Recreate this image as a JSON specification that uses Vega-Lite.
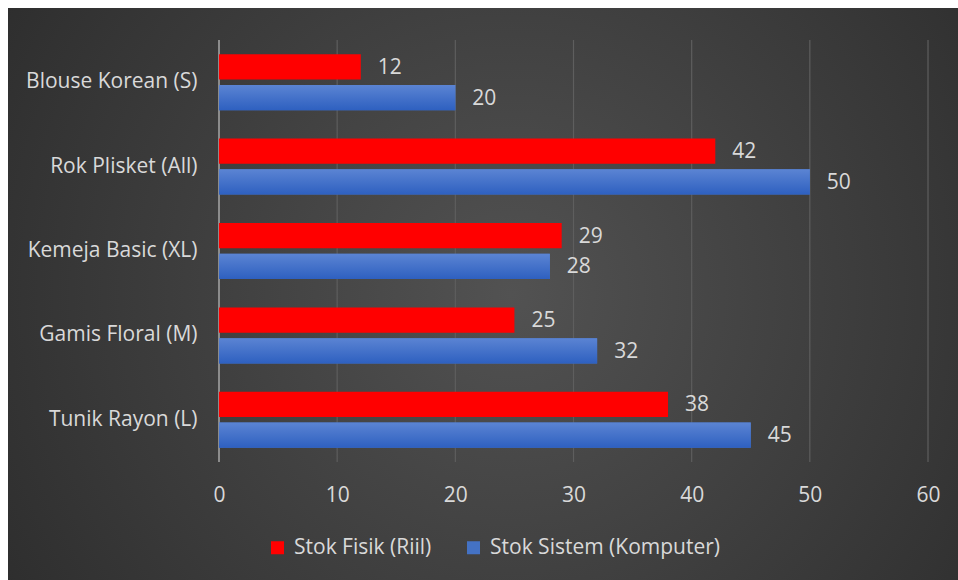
{
  "$schema": "https://vega.github.io/schema/vega-lite/v6.json",
  "width": 950,
  "height": 572,
  "padding": {"left": 8, "top": 8, "right": 0, "bottom": 0},
  "autosize": {"type": "none"},
  "background": "#ffffff",
  "config": {
    "font": "Open Sans",
    "view": {
      "stroke": null,
      "fill": {
        "gradient": "radial",
        "x1": 0.53, "y1": 0.5, "r1": 0,
        "x2": 0.53, "y2": 0.5, "r2": 0.72,
        "stops": [
          {"offset": 0, "color": "#525252"},
          {"offset": 1, "color": "#282828"}
        ]
      }
    }
  },
  "datasets": {
    "stock": [
      {"product": "Blouse Korean (S)", "series": "Stok Fisik (Riil)", "value": 12},
      {"product": "Blouse Korean (S)", "series": "Stok Sistem (Komputer)", "value": 20},
      {"product": "Rok Plisket (All)", "series": "Stok Fisik (Riil)", "value": 42},
      {"product": "Rok Plisket (All)", "series": "Stok Sistem (Komputer)", "value": 50},
      {"product": "Kemeja Basic (XL)", "series": "Stok Fisik (Riil)", "value": 29},
      {"product": "Kemeja Basic (XL)", "series": "Stok Sistem (Komputer)", "value": 28},
      {"product": "Gamis Floral (M)", "series": "Stok Fisik (Riil)", "value": 25},
      {"product": "Gamis Floral (M)", "series": "Stok Sistem (Komputer)", "value": 32},
      {"product": "Tunik Rayon (L)", "series": "Stok Fisik (Riil)", "value": 38},
      {"product": "Tunik Rayon (L)", "series": "Stok Sistem (Komputer)", "value": 45}
    ],
    "grid": [
      {"value": 10}, {"value": 20}, {"value": 30}, {"value": 40}, {"value": 50}, {"value": 60}
    ],
    "axisline": [
      {"value": 0}
    ]
  },
  "encoding": {
    "x": {
      "field": "value",
      "type": "quantitative",
      "scale": {"domain": [0, 60], "range": [211, 920], "nice": false, "zero": false},
      "axis": {
        "orient": "bottom",
        "offset": -118,
        "values": [0, 10, 20, 30, 40, 50, 60],
        "grid": false,
        "ticks": false,
        "domain": false,
        "title": null,
        "labelFontSize": 21,
        "labelColor": "#d9d9d9",
        "labelPadding": 22,
        "labelFlush": false,
        "labelFont": "Open Sans"
      }
    }
  },
  "layer": [
    {
      "data": {"name": "grid"},
      "mark": {"type": "rule", "color": "#5e5e5e", "strokeWidth": 1.2},
      "encoding": {
        "y": {"datum": 0, "type": "quantitative", "scale": {"domain": [0, 1], "range": [454, 32]}, "axis": null},
        "y2": {"datum": 1}
      }
    },
    {
      "data": {"name": "axisline"},
      "mark": {"type": "rule", "color": "#8c8c8c", "strokeWidth": 2},
      "encoding": {
        "y": {"datum": 0, "type": "quantitative", "scale": {"domain": [0, 1], "range": [454, 32]}, "axis": null},
        "y2": {"datum": 1}
      }
    },
    {
      "data": {"name": "stock"},
      "layer": [
        {
          "mark": {"type": "bar"},
          "encoding": {
            "color": {
              "field": "series",
              "type": "nominal",
              "scale": {
                "domain": ["Stok Fisik (Riil)", "Stok Sistem (Komputer)"],
                "range": ["#ff0000", "#4472c4"]
              },
              "legend": {
                "orient": "none",
                "legendX": 259,
                "legendY": 529,
                "direction": "horizontal",
                "title": null,
                "symbolType": "square",
                "symbolSize": 169,
                "symbolStrokeWidth": 0,
                "symbolOpacity": 1,
                "labelFontSize": 21,
                "labelColor": "#d9d9d9",
                "labelFont": "Open Sans",
                "labelOffset": 6,
                "labelLimit": 400,
                "columnPadding": 31
              }
            }
          }
        },
        {
          "transform": [{"filter": "datum.series === 'Stok Sistem (Komputer)'"}],
          "mark": {
            "type": "bar",
            "color": {
              "gradient": "linear",
              "x1": 0, "y1": 0, "x2": 0, "y2": 1,
              "stops": [
                {"offset": 0, "color": "#5b84d3"},
                {"offset": 1, "color": "#2e60c0"}
              ]
            }
          }
        },
        {
          "mark": {"type": "text", "align": "left", "baseline": "middle", "dx": 17, "dy": 1, "fontSize": 21, "color": "#d9d9d9", "font": "Open Sans"},
          "encoding": {
            "text": {"field": "value", "type": "quantitative"}
          }
        }
      ],
      "encoding": {
        "y": {
          "field": "product",
          "type": "nominal",
          "sort": ["Blouse Korean (S)", "Rok Plisket (All)", "Kemeja Basic (XL)", "Gamis Floral (M)", "Tunik Rayon (L)"],
          "scale": {"range": [32, 454], "paddingInner": 0.336, "paddingOuter": 0.168},
          "axis": {
            "orient": "left",
            "offset": -211,
            "ticks": false,
            "domain": false,
            "grid": false,
            "title": null,
            "labelFontSize": 21,
            "labelColor": "#d9d9d9",
            "labelPadding": 22,
            "labelLimit": 300,
            "labelFont": "Open Sans"
          }
        },
        "yOffset": {
          "field": "series",
          "type": "nominal",
          "sort": ["Stok Fisik (Riil)", "Stok Sistem (Komputer)"],
          "scale": {"paddingInner": 0.18, "paddingOuter": 0}
        }
      }
    }
  ],
  "resolve": {"scale": {"y": "independent"}}
}
